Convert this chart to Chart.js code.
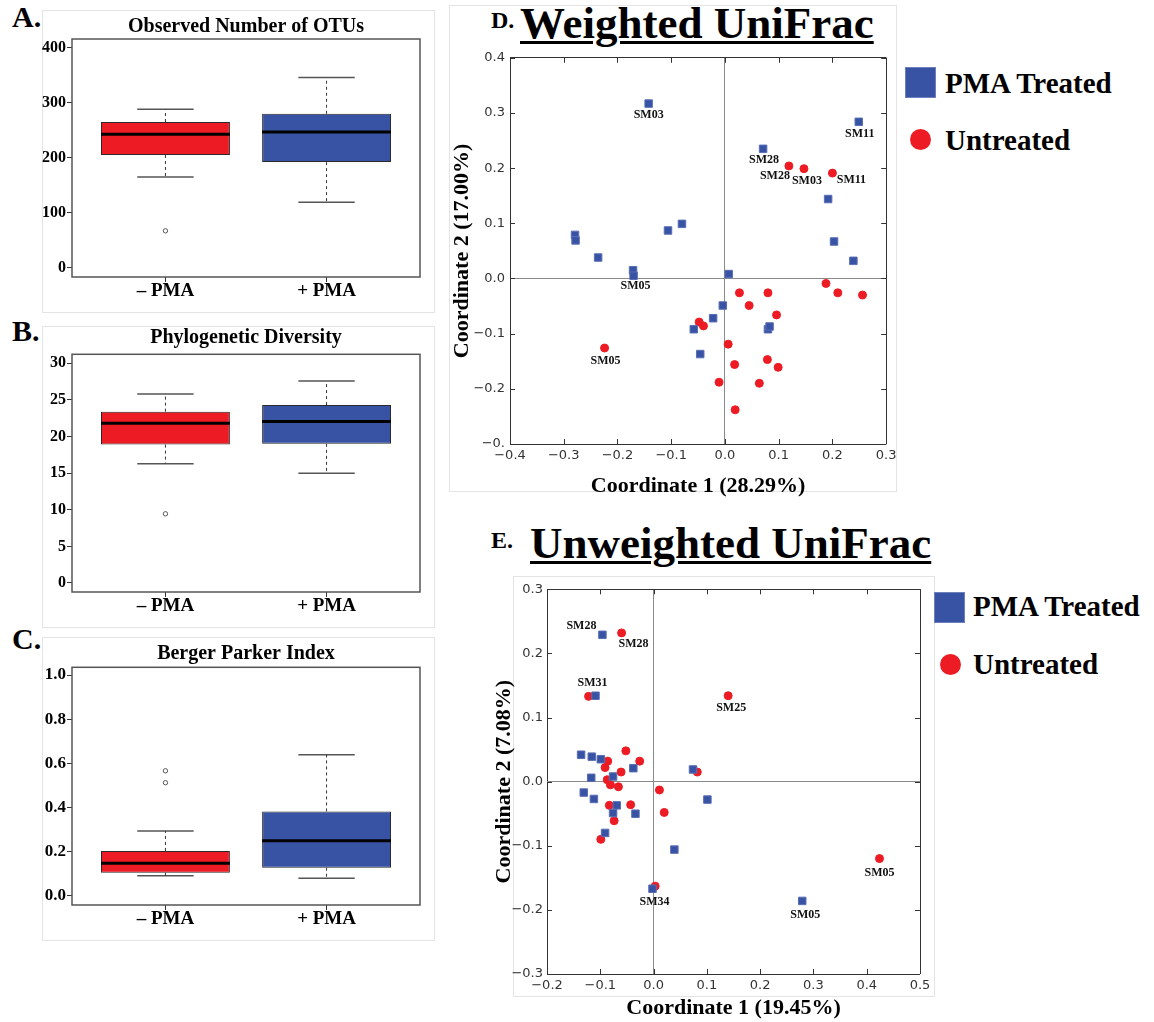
<!DOCTYPE html>
<html><head><meta charset="utf-8">
<script src="https://cdn.jsdelivr.net/npm/chart.js@4.4.1/dist/chart.umd.min.js"></script>
<style>
html,body{margin:0;padding:0;background:#fff;}
#page{position:relative;width:1154px;height:1022px;overflow:hidden;font-family:'Liberation Serif','Times New Roman',serif;font-weight:bold;color:#000;}
canvas{position:absolute;}
.frame{position:absolute;border:1px solid #e4e4e4;box-sizing:border-box;}
.letter{position:absolute;font-size:30px;line-height:1;white-space:nowrap;}
.small{position:absolute;font-size:24px;line-height:1;white-space:nowrap;}
.big{position:absolute;font-size:45px;line-height:1;text-decoration:underline;text-decoration-thickness:3px;text-underline-offset:3px;white-space:nowrap;}
.legtxt{position:absolute;font-size:29px;line-height:1;white-space:nowrap;}
.sq{position:absolute;width:31px;height:31px;background:#3953A4;box-sizing:border-box;border:1px solid #6d80bd;}
.dot{position:absolute;width:21px;height:21px;border-radius:50%;background:#ED1C24;}
</style></head>
<body><div id="page">
<div class="frame" style="left:42px;top:10px;width:393px;height:303px"></div>
<div class="frame" style="left:42px;top:326px;width:393px;height:302px"></div>
<div class="frame" style="left:42px;top:637px;width:393px;height:304px"></div>
<div class="frame" style="left:449px;top:5px;width:448px;height:487px"></div>
<div class="frame" style="left:513px;top:576px;width:422px;height:421px"></div>

<div class="letter" style="left:12px;top:2px">A.</div>
<div class="letter" style="left:12px;top:316px">B.</div>
<div class="letter" style="left:12px;top:624px">C.</div>
<div class="small" style="left:491px;top:8px">D.</div>
<div class="big" style="left:520px;top:1px">Weighted UniFrac</div>
<div class="small" style="left:491px;top:528px">E.</div>
<div class="big" style="left:530px;top:521px">Unweighted UniFrac</div>

<div class="sq" style="left:905px;top:67px"></div>
<div class="legtxt" style="left:945px;top:69px">PMA Treated</div>
<div class="dot" style="left:910px;top:129px"></div>
<div class="legtxt" style="left:945px;top:126px">Untreated</div>

<div class="sq" style="left:934px;top:592px"></div>
<div class="legtxt" style="left:973px;top:592px">PMA Treated</div>
<div class="dot" style="left:940px;top:654px"></div>
<div class="legtxt" style="left:973px;top:650px">Untreated</div>

<canvas id="cA" width="393" height="303" style="left:42px;top:10px"></canvas>
<canvas id="cB" width="393" height="302" style="left:42px;top:326px"></canvas>
<canvas id="cC" width="393" height="304" style="left:42px;top:637px"></canvas>
<canvas id="cD" width="460" height="455" style="left:440px;top:45px"></canvas>
<canvas id="cE" width="460" height="447" style="left:480px;top:575px"></canvas>
</div>
<script>
// ---------- DATA ----------
const groups = ['– PMA', '+ PMA'];

// A. Observed Number of OTUs
const otuLow = [165, 119];
const otuQ1 = [205, 192];
const otuMedian = [242.5, 247];
const otuQ3 = [265, 280];
const otuHigh = [288, 346];
const otuOutliers = [[67], []];
const otuTicks = [0, 100, 200, 300, 400];
const otuTickLabels = ['0', '100', '200', '300', '400'];

// B. Phylogenetic Diversity
const pdLow = [16.3, 15.0];
const pdQ1 = [18.9, 19.0];
const pdMedian = [21.8, 22.05];
const pdQ3 = [23.4, 24.3];
const pdHigh = [25.8, 27.6];
const pdOutliers = [[9.45], []];
const pdTicks = [0, 5, 10, 15, 20, 25, 30];
const pdTickLabels = ['0', '5', '10', '15', '20', '25', '30'];

// C. Berger Parker Index
const bpLow = [0.091, 0.079];
const bpQ1 = [0.104, 0.127];
const bpMedian = [0.147, 0.249];
const bpQ3 = [0.203, 0.382];
const bpHigh = [0.293, 0.639];
const bpOutliers = [[0.566, 0.512], []];
const bpTicks = [0, 0.2, 0.4, 0.6, 0.8, 1.0];
const bpTickLabels = ['0.0', '0.2', '0.4', '0.6', '0.8', '1.0'];

// D. Weighted UniFrac
const wPmaX = [-0.142, 0.249, 0.071, 0.192, 0.203, 0.239, -0.279, -0.278, -0.236, -0.106, -0.080, -0.171, -0.170, 0.007, -0.004, -0.022, -0.058, 0.080, 0.083, -0.046];
const wPmaY = [0.317, 0.284, 0.235, 0.144, 0.067, 0.032, 0.079, 0.069, 0.038, 0.087, 0.099, 0.015, 0.005, 0.008, -0.049, -0.072, -0.092, -0.092, -0.087, -0.137];
const wPmaNames = ['SM03', 'SM11', 'SM28', '', '', '', '', '', '', '', '', '', 'SM05', '', '', '', '', '', '', ''];
const wUntX = [0.119, 0.147, 0.200, 0.027, 0.080, 0.045, 0.096, -0.048, -0.040, 0.006, -0.224, 0.079, 0.018, 0.099, -0.011, 0.064, 0.019, 0.188, 0.210, 0.256];
const wUntY = [0.204, 0.199, 0.191, -0.026, -0.026, -0.049, -0.066, -0.079, -0.086, -0.119, -0.126, -0.147, -0.156, -0.161, -0.188, -0.190, -0.238, -0.009, -0.026, -0.030];
const wUntNames = ['SM28', 'SM03', 'SM11', '', '', '', '', '', '', '', 'SM05', '', '', '', '', '', '', '', '', ''];
const wXTicks = [-0.4, -0.3, -0.2, -0.1, 0.0, 0.1, 0.2, 0.3];
const wXTickLabels = ['−0.4', '−0.3', '−0.2', '−0.1', '0.0', '0.1', '0.2', '0.3'];
const wYTicks = [-0.3, -0.2, -0.1, 0.0, 0.1, 0.2, 0.3, 0.4];
const wYTickLabels = ['−0.', '−0.2', '−0.1', '0.0', '0.1', '0.2', '0.3', '0.4'];

// E. Unweighted UniFrac
const uPmaX = [-0.096, -0.109, -0.136, -0.116, -0.099, -0.038, 0.074, -0.117, -0.076, -0.131, -0.112, 0.101, -0.069, -0.076, -0.034, -0.091, 0.039, -0.002, 0.279];
const uPmaY = [0.229, 0.134, 0.042, 0.039, 0.035, 0.021, 0.019, 0.006, 0.008, -0.017, -0.027, -0.028, -0.037, -0.049, -0.050, -0.080, -0.106, -0.167, -0.186];
const uPmaNames = ['SM28', 'SM31', '', '', '', '', '', '', '', '', '', '', '', '', '', '', '', 'SM34', 'SM05'];
const uUntX = [-0.060, -0.122, 0.140, -0.052, -0.086, -0.026, -0.091, 0.082, -0.061, -0.087, -0.081, -0.066, 0.011, -0.083, -0.043, 0.020, -0.074, -0.099, 0.424, 0.003];
const uUntY = [0.232, 0.133, 0.134, 0.048, 0.032, 0.032, 0.022, 0.015, 0.015, 0.003, -0.005, -0.008, -0.013, -0.037, -0.036, -0.048, -0.061, -0.090, -0.120, -0.163];
const uUntNames = ['SM28', '', 'SM25', '', '', '', '', '', '', '', '', '', '', '', '', '', '', '', 'SM05', ''];
const uXTicks = [-0.2, -0.1, 0.0, 0.1, 0.2, 0.3, 0.4, 0.5];
const uXTickLabels = ['−0.2', '−0.1', '0.0', '0.1', '0.2', '0.3', '0.4', '0.5'];
const uYTicks = [-0.3, -0.2, -0.1, 0.0, 0.1, 0.2, 0.3];
const uYTickLabels = ['−0.3', '−0.2', '−0.1', '0.0', '0.1', '0.2', '0.3'];

// ---------- STYLE ----------
const SERIF = "'Liberation Serif', 'Times New Roman', serif";
const SANS = "'DejaVu Sans', sans-serif";
const RED = '#ED1C24';
const BLUE = '#3953A4';

const framePlugin = {
  id: 'frameBox',
  afterDatasetsDraw(chart) {
    const a = chart.chartArea, ctx = chart.ctx;
    ctx.save(); ctx.strokeStyle = '#555'; ctx.lineWidth = 1.5;
    ctx.strokeRect(a.left, a.top, a.right - a.left, a.bottom - a.top);
    ctx.restore();
  }
};

const innerTicks = {
  id: 'innerTicks',
  afterDraw(chart) {
    const {ctx, chartArea: a} = chart; const x = chart.scales.x, y = chart.scales.y;
    ctx.save(); ctx.strokeStyle = '#333'; ctx.lineWidth = 1; ctx.beginPath();
    x.ticks.forEach(t => { const p = Math.round(x.getPixelForValue(t.value)) + 0.5;
      ctx.moveTo(p, a.bottom); ctx.lineTo(p, a.bottom - 5); ctx.moveTo(p, a.top); ctx.lineTo(p, a.top + 5); });
    y.ticks.forEach(t => { const p = Math.round(y.getPixelForValue(t.value)) + 0.5;
      ctx.moveTo(a.left, p); ctx.lineTo(a.left + 5, p); ctx.moveTo(a.right, p); ctx.lineTo(a.right - 5, p); });
    ctx.stroke(); ctx.restore();
  }
};

function labelPlugin(offsets) {
  return {
    id: 'pointLabels',
    afterDatasetsDraw(chart) {
      const ctx = chart.ctx; ctx.save();
      ctx.font = "bold 12px " + SERIF; ctx.fillStyle = '#111'; ctx.textAlign = 'center'; ctx.textBaseline = 'middle';
      chart.data.datasets.forEach((ds, di) => {
        const names = ds.pointNames || []; const meta = chart.getDatasetMeta(di);
        names.forEach((n, i) => { if (!n) return; const el = meta.data[i];
          const off = offsets[di + ':' + n] || [0, 12]; ctx.fillText(n, el.x + off[0], el.y + off[1]); });
      });
      ctx.restore();
    }
  };
}

function makeBox(id, c) {
  const xs = groups.map((g, i) => i + 1);
  const gap = x => ({x: x, y: null});
  const datasets = [
    { type: 'bar', data: xs.map((x, i) => ({x: x, y: [c.q1[i], c.q3[i]]})),
      backgroundColor: [RED, BLUE], borderColor: '#2a2a2a', borderWidth: 1, borderSkipped: false,
      categoryPercentage: 1, barPercentage: 0.8, order: 2 },
    { type: 'line', data: xs.flatMap((x, i) => [{x: x - 0.4, y: c.med[i]}, {x: x + 0.4, y: c.med[i]}, gap(x + 0.5)]),
      borderColor: '#000', borderWidth: 3, pointRadius: 0, spanGaps: false, order: 0 },
    { type: 'line', data: xs.flatMap((x, i) => [{x: x, y: c.q3[i]}, {x: x, y: c.high[i]}, gap(x + 0.5), {x: x, y: c.q1[i]}, {x: x, y: c.low[i]}, gap(x + 0.5)]),
      borderColor: '#333', borderWidth: 1, borderDash: [3, 3], pointRadius: 0, spanGaps: false, order: 3 },
    { type: 'line', data: xs.flatMap((x, i) => [{x: x - 0.175, y: c.high[i]}, {x: x + 0.175, y: c.high[i]}, gap(x + 0.5), {x: x - 0.175, y: c.low[i]}, {x: x + 0.175, y: c.low[i]}, gap(x + 0.5)]),
      borderColor: '#555', borderWidth: 1.5, pointRadius: 0, spanGaps: false, order: 3 },
    { type: 'scatter', data: xs.flatMap((x, i) => c.out[i].map(v => ({x: x, y: v}))),
      pointStyle: 'circle', pointRadius: 2.2, backgroundColor: '#fff', borderColor: '#555', borderWidth: 1, order: 0 }
  ];
  return new Chart(document.getElementById(id), {
    type: 'scatter',
    data: {datasets},
    options: {
      responsive: false, animation: false, events: [],
      layout: {padding: {left: 0, right: 15, top: 0, bottom: 0}},
      plugins: {
        legend: {display: false}, tooltip: {enabled: false},
        title: {display: true, fullSize: false, text: c.title, color: '#000',
          font: {family: SERIF, size: 20, weight: 'bold'}, padding: c.titlePad}
      },
      scales: {
        x: { type: 'linear', min: 0.42, max: 2.58, offset: false,
          afterBuildTicks: s => { s.ticks = xs.map(v => ({value: v})); },
          ticks: {callback: (v, i) => groups[i], color: '#000', padding: 0, autoSkip: false, maxRotation: 0,
            font: {family: SERIF, size: 19, weight: 'bold', lineHeight: 1}},
          grid: {offset: false, drawOnChartArea: false, drawTicks: true, tickLength: 5, color: '#333'},
          border: {display: false},
          afterFit: s => { s.height = 36; } },
        y: { type: 'linear', min: c.yMin, max: c.yMax,
          afterBuildTicks: s => { s.ticks = c.ticks.map(v => ({value: v})); },
          ticks: {callback: (v, i) => c.tickLabels[i], color: '#000', padding: 1, autoSkip: false,
            font: {family: SERIF, size: c.tickSize, weight: 'bold', lineHeight: 1}},
          grid: {drawOnChartArea: false, drawTicks: true, tickLength: 5, color: '#333'},
          border: {display: false},
          afterFit: s => { s.width = 30; } }
      }
    },
    plugins: [framePlugin]
  });
}

makeBox('cA', {title: 'Observed Number of OTUs', titlePad: {top: 5, bottom: 0},
  low: otuLow, q1: otuQ1, med: otuMedian, q3: otuQ3, high: otuHigh, out: otuOutliers,
  ticks: otuTicks, tickLabels: otuTickLabels, yMin: -17, yMax: 416, tickSize: 16});
makeBox('cB', {title: 'Phylogenetic Diversity', titlePad: {top: 0.3, bottom: 4},
  low: pdLow, q1: pdQ1, med: pdMedian, q3: pdQ3, high: pdHigh, out: pdOutliers,
  ticks: pdTicks, tickLabels: pdTickLabels, yMin: -1.23, yMax: 31.23, tickSize: 16});
makeBox('cC', {title: 'Berger Parker Index', titlePad: {top: 5, bottom: 1.3},
  low: bpLow, q1: bpQ1, med: bpMedian, q3: bpQ3, high: bpHigh, out: bpOutliers,
  ticks: bpTicks, tickLabels: bpTickLabels, yMin: -0.042, yMax: 1.035, tickSize: 17});

function makeScatter(id, c) {
  const edgeColor = (min, max) => ctx => {
    const v = ctx.tick ? ctx.tick.value : null;
    if (v === 0) return '#8a8a8a';
    if (Math.abs(v - min) < 1e-9 || Math.abs(v - max) < 1e-9) return '#333';
    return 'rgba(0,0,0,0)';
  };
  return new Chart(document.getElementById(id), {
    type: 'scatter',
    data: {datasets: [
      { label: 'PMA Treated', data: c.pmaX.map((x, i) => ({x: x, y: c.pmaY[i]})), pointNames: c.pmaNames,
        pointStyle: 'rect', pointRadius: 5.3, backgroundColor: BLUE, borderColor: '#5a6fb5', borderWidth: 1 },
      { label: 'Untreated', data: c.untX.map((x, i) => ({x: x, y: c.untY[i]})), pointNames: c.untNames,
        pointStyle: 'circle', pointRadius: 4, backgroundColor: RED, borderColor: RED, borderWidth: 1 }
    ]},
    options: {
      responsive: false, animation: false, events: [],
      layout: {padding: c.pad},
      plugins: {legend: {display: false}, tooltip: {enabled: false}},
      scales: {
        x: { type: 'linear', min: c.xTicks[0], max: c.xTicks[c.xTicks.length - 1],
          afterBuildTicks: s => { s.ticks = c.xTicks.map(v => ({value: v})); },
          ticks: {callback: (v, i) => c.xTickLabels[i], color: '#333', padding: c.xTickPad, autoSkip: false, maxRotation: 0,
            font: {family: SANS, size: 13}},
          grid: {drawTicks: false, color: edgeColor(c.xTicks[0], c.xTicks[c.xTicks.length - 1]), lineWidth: 1},
          border: {display: false},
          title: {display: true, text: c.xTitle, color: '#000', font: {family: SERIF, size: 22, weight: 'bold'},
            padding: {top: c.xTitlePad, bottom: 0}},
          afterFit: s => { s.height = c.xH; } },
        y: { type: 'linear', min: c.yTicks[0], max: c.yTicks[c.yTicks.length - 1],
          afterBuildTicks: s => { s.ticks = c.yTicks.map(v => ({value: v})); },
          ticks: {callback: (v, i) => c.yTickLabels[i], color: '#333', padding: c.yTickPad, autoSkip: false,
            font: {family: SANS, size: 13}},
          grid: {drawTicks: false, color: edgeColor(c.yTicks[0], c.yTicks[c.yTicks.length - 1]), lineWidth: 1},
          border: {display: false},
          title: {display: true, text: c.yTitle, color: '#000', font: {family: SERIF, size: 22, weight: 'bold'},
            padding: {top: c.yTitlePad, bottom: 0}},
          afterFit: s => { s.width = c.yW; } }
      }
    },
    plugins: [innerTicks, labelPlugin(c.offsets)]
  });
}

makeScatter('cD', {
  pmaX: wPmaX, pmaY: wPmaY, pmaNames: wPmaNames, untX: wUntX, untY: wUntY, untNames: wUntNames,
  xTicks: wXTicks, xTickLabels: wXTickLabels, yTicks: wYTicks, yTickLabels: wYTickLabels,
  xTitle: 'Coordinate 1 (28.29%)', yTitle: 'Coordinate 2 (17.00%)',
  pad: {left: 0, top: 10, right: 13, bottom: 0}, xH: 56, yW: 70,
  xTickPad: 3.5, yTickPad: 5, xTitlePad: 6, yTitlePad: 9.3,
  offsets: {'0:SM03': [0, 11], '0:SM11': [1, 12], '0:SM28': [1, 11], '0:SM05': [2, 10],
    '1:SM28': [-14, 10], '1:SM03': [3, 12], '1:SM11': [19, 7], '1:SM05': [1, 13]}
});

makeScatter('cE', {
  pmaX: uPmaX, pmaY: uPmaY, pmaNames: uPmaNames, untX: uUntX, untY: uUntY, untNames: uUntNames,
  xTicks: uXTicks, xTickLabels: uXTickLabels, yTicks: uYTicks, yTickLabels: uYTickLabels,
  xTitle: 'Coordinate 1 (19.45%)', yTitle: 'Coordinate 2 (7.08%)',
  pad: {left: 0, top: 14.3, right: 20, bottom: 0}, xH: 48, yW: 67,
  xTickPad: 4, yTickPad: 4, xTitlePad: 0, yTitlePad: 10.8,
  offsets: {'0:SM28': [-21, -9], '0:SM31': [-3, -13], '0:SM34': [2, 13], '0:SM05': [3, 14],
    '1:SM28': [12, 11], '1:SM25': [3, 12], '1:SM05': [0, 14]}
});
</script>
</body></html>
